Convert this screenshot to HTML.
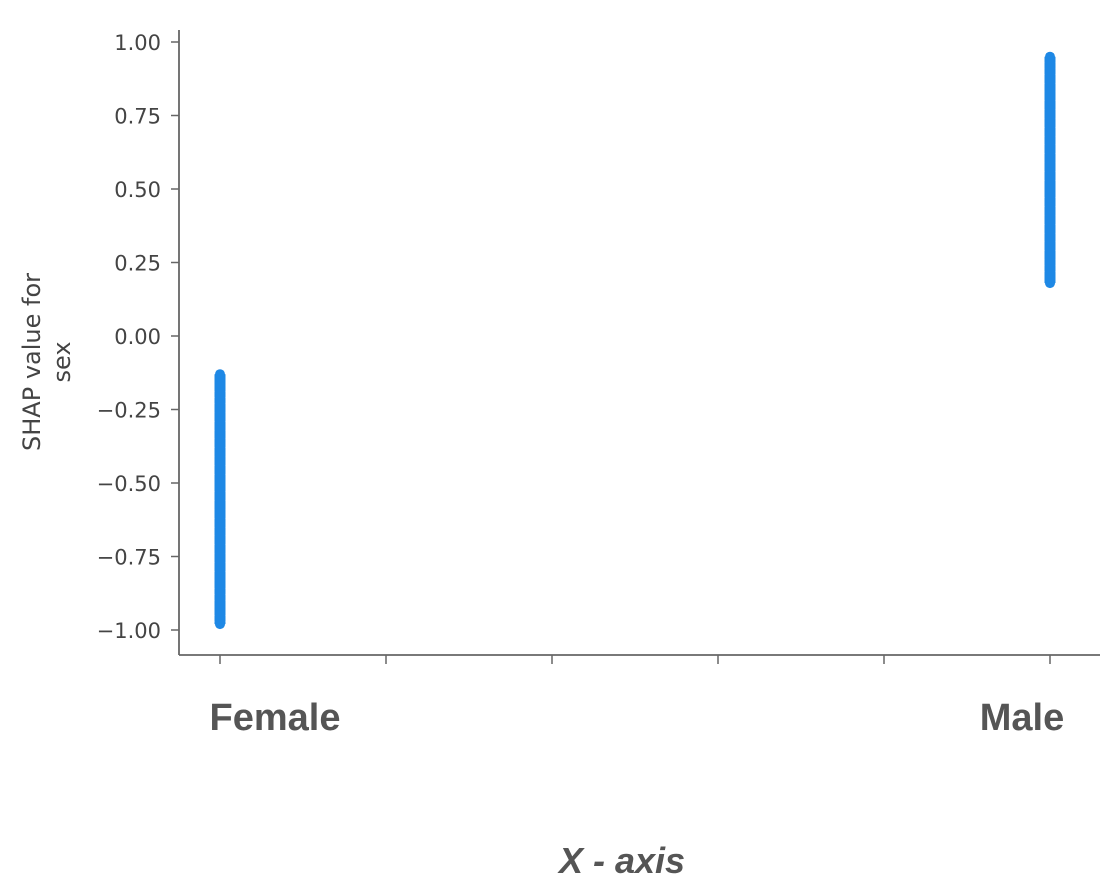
<!DOCTYPE html>
<html><head><meta charset="utf-8"><style>
body{margin:0;background:#fff;width:1112px;height:888px;overflow:hidden}
svg{display:block;font-family:"DejaVu Sans","Liberation Sans",sans-serif}
</style></head><body>
<svg id="chart" width="1112" height="888">
<g id="axes"></g>
<g id="points"></g>
<text x="0" y="0" transform="translate(40,362) rotate(-90)" text-anchor="middle" font-size="24" fill="#444">SHAP value for</text>
<text x="0" y="0" transform="translate(70,362) rotate(-90)" text-anchor="middle" font-size="24" fill="#444">sex</text>
<text x="275" y="730" text-anchor="middle" font-size="38" font-weight="bold" fill="#555" font-family="Liberation Sans, sans-serif">Female</text>
<text x="1022" y="730" text-anchor="middle" font-size="38" font-weight="bold" fill="#555" font-family="Liberation Sans, sans-serif">Male</text>
<text x="622" y="873" text-anchor="middle" font-size="36" font-weight="bold" font-style="italic" fill="#555" font-family="Liberation Sans, sans-serif">X  - axis</text>
</svg>
<script>
const yTicks=[1.00,0.75,0.50,0.25,0.00,-0.25,-0.50,-0.75,-1.00];
const yTickLabels=["1.00","0.75","0.50","0.25","0.00","\u22120.25","\u22120.50","\u22120.75","\u22121.00"];
const xTicks=[0,0.2,0.4,0.6,0.8,1.0];
const femaleX=0;
const femaleValues=[-0.13,-0.17,-0.19,-0.21,-0.23,-0.26,-0.29,-0.32,-0.35,-0.38,-0.41,-0.44,-0.47,-0.50,-0.53,-0.56,-0.59,-0.62,-0.65,-0.68,-0.71,-0.74,-0.77,-0.80,-0.83,-0.86,-0.88,-0.90,-0.92,-0.95,-0.97,-0.98];
const maleX=1;
const maleValues=[0.18,0.22,0.24,0.26,0.29,0.32,0.35,0.38,0.41,0.44,0.47,0.50,0.53,0.56,0.59,0.62,0.65,0.68,0.71,0.74,0.77,0.80,0.83,0.86,0.89,0.91,0.93,0.95];
const NS="http://www.w3.org/2000/svg";
const xs=v=>220+v*830;
const ys=v=>336-v*294;
const ax=document.getElementById('axes'),pts=document.getElementById('points');
function mk(tag,attrs,parent){const e=document.createElementNS(NS,tag);for(const k in attrs)e.setAttribute(k,attrs[k]);parent.appendChild(e);return e;}
let l=mk('line',{x1:179,y1:30,x2:179,y2:655,stroke:'#666','stroke-width':1.8},ax);


l=mk('line',{x1:179,y1:655,x2:1100,y2:655,stroke:'#666','stroke-width':1.8},ax);


yTicks.forEach((v,i)=>{
  const t=mk('line',{x1:171,y1:ys(v),x2:179,y2:ys(v),stroke:'#666','stroke-width':1.5},ax);
  
  
  const tx=mk('text',{x:161,y:ys(v)+8,'text-anchor':'end','font-size':21,fill:'#444'},ax);
  tx.textContent=yTickLabels[i];
  
  
});
xTicks.forEach(v=>{
  const t=mk('line',{x1:xs(v),y1:655,x2:xs(v),y2:664,stroke:'#666','stroke-width':1.5},ax);
  
  
});
function drawSeries(x,vals,name){
  for(let i=0;i<vals.length-1;i++){
    const r=mk('line',{x1:xs(x),y1:ys(vals[i]),x2:xs(x),y2:ys(vals[i+1]),stroke:'#1E88E5','stroke-width':11},pts);
    
    
  }
  vals.forEach(v=>{
    const c=mk('circle',{cx:xs(x),cy:ys(v),r:5,fill:'#1E88E5'},pts);
    
    
  });
}
drawSeries(femaleX,femaleValues,'female');
drawSeries(maleX,maleValues,'male');
</script>
</body></html>
